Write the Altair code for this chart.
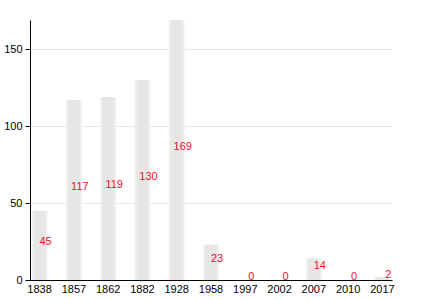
import altair as alt
import pandas as pd

years = ["1838", "1857", "1862", "1882", "1928", "1958", "1997", "2002", "2007", "2010", "2017"]
values = [45, 117, 119, 130, 169, 23, 0, 0, 14, 0, 2]

df = pd.DataFrame({"year": years, "value": values})
df["half"] = df["value"] / 2

x = alt.X("year:N", sort=years, title=None,
          scale=alt.Scale(paddingInner=0.54, paddingOuter=0.05),
          axis=alt.Axis(labelAngle=0, ticks=False, domainColor="#000", labelColor="#000",
                        labelFontSize=11, labelPadding=3, labelFont="Liberation Sans"))

base = alt.Chart(df)

bars = base.mark_bar(
    color=alt.Gradient(gradient="linear", x1=0, x2=1, y1=0, y2=0,
                       stops=[alt.GradientStop(offset=0, color="#f3f3f3"),
                              alt.GradientStop(offset=0.2, color="#e6e6e6"),
                              alt.GradientStop(offset=0.8, color="#e6e6e6"),
                              alt.GradientStop(offset=1, color="#f3f3f3")])
).encode(
    x=x,
    y=alt.Y("value:Q", title=None,
            scale=alt.Scale(domain=[0, 169], nice=False),
            axis=alt.Axis(values=[0, 50, 100, 150], domainColor="#000", tickColor="#000",
                          tickSize=5, labelColor="#000", labelFontSize=11,
                          labelFont="Liberation Sans", gridColor="#e8e8e8", labelPadding=3)),
)

labels = base.mark_text(color="#e8112d", fontSize=11, font="Liberation Sans",
                        baseline="middle", dx=6, dy=-3).encode(
    x=alt.X("year:N", sort=years),
    y=alt.Y("half:Q"),
    text=alt.Text("value:Q"),
)

chart = alt.layer(bars, labels).properties(
    width=362, height=260,
    autosize=alt.AutoSizeParams(type="none"),
    padding={"left": 30, "top": 20, "right": 38, "bottom": 20},
).configure_view(stroke=None).configure_axisY(
    gridColor="#e8e8e8"
)

chart.save("out.html", embed_options={"renderer": "svg", "actions": False})
